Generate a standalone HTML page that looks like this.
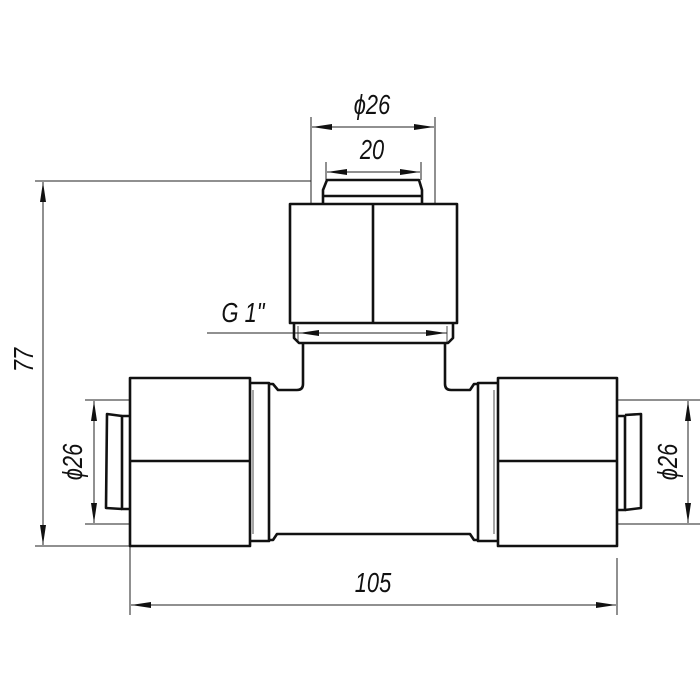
<!DOCTYPE html>
<html><head><meta charset="utf-8"><style>
html,body{margin:0;padding:0;background:#fff;}
svg{display:block;}
text{font-family:"Liberation Sans",sans-serif;font-style:italic;font-size:28px;fill:#111;}
</style></head><body>
<svg width="700" height="700" viewBox="0 0 700 700" xmlns="http://www.w3.org/2000/svg">
<defs>
<marker id="a" viewBox="0 0 20 6" refX="20" refY="3" markerWidth="20" markerHeight="6" markerUnits="userSpaceOnUse" orient="auto-start-reverse"><path d="M0,0 L20,3 L0,6 Z" fill="#111"/></marker>
</defs>
<g stroke="#222" stroke-width="1" fill="none">
<line x1="311" y1="117" x2="311" y2="204"/><line x1="435" y1="117" x2="435" y2="204"/>
<line x1="312" y1="127" x2="434" y2="127" marker-start="url(#a)" marker-end="url(#a)"/>
<line x1="326" y1="162" x2="326" y2="180"/><line x1="421" y1="162" x2="421" y2="180"/>
<line x1="327" y1="172" x2="420" y2="172" marker-start="url(#a)" marker-end="url(#a)"/>
<line x1="35" y1="181" x2="311" y2="181"/>
<line x1="35" y1="546" x2="130" y2="546"/>
<line x1="43" y1="182" x2="43" y2="545" marker-start="url(#a)" marker-end="url(#a)"/>
<line x1="207" y1="333" x2="447" y2="333"/>
<line x1="298" y1="326" x2="298" y2="343" stroke-width="0.8"/><line x1="447" y1="326" x2="447" y2="343" stroke-width="0.8"/>
<line x1="299" y1="333" x2="446" y2="333" marker-start="url(#a)" marker-end="url(#a)"/>
<line x1="85" y1="400" x2="130" y2="400"/><line x1="85" y1="524" x2="130" y2="524"/>
<line x1="94" y1="401" x2="94" y2="523" marker-start="url(#a)" marker-end="url(#a)"/>
<line x1="617" y1="400" x2="700" y2="400"/><line x1="617" y1="524" x2="700" y2="524"/>
<line x1="688" y1="401" x2="688" y2="523" marker-start="url(#a)" marker-end="url(#a)"/>
<line x1="130" y1="546" x2="130" y2="615"/><line x1="617" y1="558" x2="617" y2="615"/>
<line x1="131" y1="605" x2="616" y2="605" marker-start="url(#a)" marker-end="url(#a)"/>
<line x1="253" y1="390" x2="253" y2="534" stroke-width="0.8"/>
<line x1="494" y1="390" x2="494" y2="534" stroke-width="0.8"/>
</g>
<g stroke="#111" stroke-width="2.6" fill="none" stroke-linejoin="round">
<rect x="290" y="204" width="167" height="119"/>
<line x1="373" y1="204" x2="373" y2="323"/>
<path d="M323,204 L323,190 L327,180 L419,180 L422,190 L422,204"/>
<line x1="323" y1="196" x2="422" y2="196"/>
<path d="M294,323 L294,338 L299,343 L448,343 L453,338 L453,323"/>
<path d="M303,343 L303,384 Q303,390 297,390 L278,390 L273,384 L269,384"/>
<path d="M445,343 L445,384 Q445,390 451,390 L470,390 L474,384 L478,384"/>
<path d="M269,540 L273,540 L277,534 L470,534 L474,540 L478,540"/>
<rect x="130" y="378" width="120" height="168"/>
<line x1="130" y1="461" x2="250" y2="461"/>
<path d="M250,383 L269,383 L269,541 L250,541"/>
<path d="M130,416 L122,416 L122,509 L130,509"/>
<path d="M122,416 L107,414 L106,508 L122,509"/>
<rect x="498" y="378" width="119" height="168"/>
<line x1="498" y1="461" x2="617" y2="461"/>
<path d="M498,383 L478,383 L478,541 L498,541"/>
<path d="M617,416 L625,416 L625,510 L617,510"/>
<path d="M625,415 L641,414 L641,508 L625,510"/>
</g>
<text transform="translate(372,114) scale(0.78,1)" text-anchor="middle">ϕ26</text>
<text transform="translate(372,159) scale(0.78,1)" text-anchor="middle">20</text>
<text transform="translate(243,322) scale(0.78,1)" text-anchor="middle">G 1"</text>
<text transform="translate(373,592) scale(0.78,1)" text-anchor="middle">105</text>
<text transform="translate(33,360) rotate(-90) scale(0.78,1)" text-anchor="middle">77</text>
<text transform="translate(82,462) rotate(-90) scale(0.78,1)" text-anchor="middle">ϕ26</text>
<text transform="translate(677,462) rotate(-90) scale(0.78,1)" text-anchor="middle">ϕ26</text>
</svg>
</body></html>
